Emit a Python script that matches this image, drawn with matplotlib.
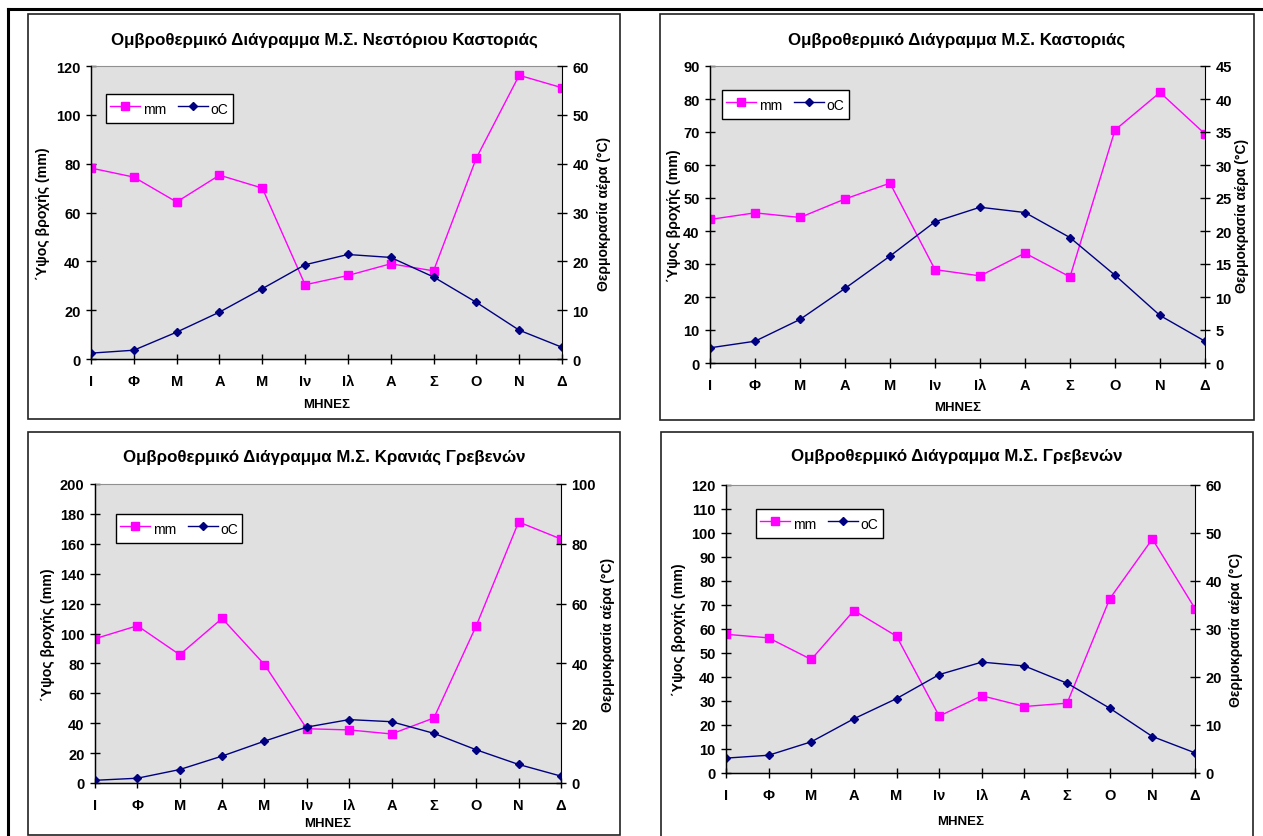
import matplotlib
matplotlib.use("Agg")
from matplotlib import pyplot as plt
from matplotlib.patches import Rectangle
from matplotlib.lines import Line2D

plt.rcParams['font.family'] = ['Liberation Sans', 'DejaVu Sans']

W, H = 1263, 837

# data
months = ['Ι', 'Φ', 'Μ', 'Α', 'Μ', 'Ιν', 'Ιλ', 'Α', 'Σ', 'Ο', 'Ν', 'Δ']

titles = ['Ομβροθερμικό Διάγραμμα Μ.Σ. Νεστόριου Καστοριάς',
          'Ομβροθερμικό Διάγραμμα Μ.Σ. Καστοριάς',
          'Ομβροθερμικό Διάγραμμα Μ.Σ. Κρανιάς Γρεβενών',
          'Ομβροθερμικό Διάγραμμα Μ.Σ. Γρεβενών']

mm_nestorio = [78.2, 74.5, 64.3, 75.3, 70.0, 30.4, 34.2, 39.0, 36.1, 82.3, 116.2, 111.1]
oc_nestorio = [1.2, 1.8, 5.5, 9.6, 14.4, 19.3, 21.4, 20.8, 16.8, 11.6, 5.9, 2.4]

mm_kastoria = [43.5, 45.5, 44.1, 49.7, 54.5, 28.3, 26.4, 33.3, 26.1, 70.6, 82.0, 69.4]
oc_kastoria = [2.3, 3.3, 6.6, 11.3, 16.2, 21.4, 23.6, 22.8, 19.0, 13.3, 7.2, 3.3]

mm_krania = [96.5, 105.2, 85.8, 110.1, 79.2, 36.3, 35.5, 32.8, 43.5, 105.2, 174.6, 163.2]
oc_krania = [0.9, 1.6, 4.5, 9.0, 14.0, 18.7, 21.2, 20.5, 16.6, 11.1, 6.2, 2.3]

mm_grevena = [57.8, 56.3, 47.3, 67.7, 57.0, 23.7, 32.2, 27.7, 29.1, 72.6, 97.5, 68.5]
oc_grevena = [3.1, 3.7, 6.5, 11.3, 15.5, 20.5, 23.1, 22.3, 18.7, 13.5, 7.6, 4.2]

mm_all = [mm_nestorio, mm_kastoria, mm_krania, mm_grevena]
oc_all = [oc_nestorio, oc_kastoria, oc_krania, oc_grevena]

left_max = [120, 90, 200, 120]
left_step = [20, 10, 20, 10]
right_max = [60, 45, 100, 60]
right_step = [10, 5, 20, 10]

# layout in pixels: (left, top, right, bottom)
boxes = [(28, 15, 620, 420), (660, 15, 1254, 421),
         (28, 433, 620, 836), (661, 433, 1253, 845)]
plots = [(91, 67, 562, 360), (710, 67, 1205, 364),
         (95, 485, 561, 784), (726, 486, 1195, 774)]
legends = [(106, 91, 233, 128), (721, 87, 850, 124),
           (111, 513, 247, 546), (752, 507, 887, 542)]
title_y = [40, 40, 457, 457]
xlabel_y = [405, 408, 824, 822]
ylab_l = [43, 674, 48, 679]
ylab_r = [604, 1242, 608, 1236]


def frac(l, t, r, b):
    return [l / W, 1 - b / H, (r - l) / W, (b - t) / H]


fig = plt.figure(figsize=(W / 100, H / 100), dpi=100)

# outer frame lines
fig.add_artist(Line2D([8 / W, 1], [1 - 10 / H, 1 - 10 / H], color='black', lw=2.2))
fig.add_artist(Line2D([8 / W, 8 / W], [1 - 10 / H, 0], color='black', lw=2.2))

for i in range(4):
    l, t, r, b = boxes[i]
    fig.add_artist(Rectangle((l / W, 1 - b / H), (r - l) / W, (b - t) / H,
                             transform=fig.transFigure, fill=False,
                             edgecolor='#222222', lw=1.2))

    ax = fig.add_axes(frac(*plots[i]))
    ax.set_facecolor('#e0e0e0')
    x = range(len(months))
    ax.plot(x, mm_all[i], color='#ff00ff', marker='s', markersize=5.5, lw=1,
            label='mm')
    ax.set_xlim(0, 11)
    ax.set_ylim(0, left_max[i])
    ax.set_yticks(range(0, left_max[i] + 1, left_step[i]))
    ax.set_xticks(list(x))
    ax.set_xticklabels(months)
    for s in ['left', 'bottom']:
        ax.spines[s].set_color('black')
        ax.spines[s].set_linewidth(1)
    ax.spines['top'].set_color('#909090')
    ax.spines['right'].set_visible(False)
    ax.tick_params(axis='both', direction='inout', length=7, width=1,
                   labelsize=10.5, pad=4)
    ax.tick_params(axis='x', pad=7)
    for lab in ax.get_xticklabels() + ax.get_yticklabels():
        lab.set_fontweight('bold')

    ax2 = ax.twinx()
    ax2.plot(x, oc_all[i], color='#000080', marker='D', markersize=4.5, lw=1,
             label='oC')
    ax2.set_ylim(0, right_max[i])
    ax2.set_yticks(range(0, right_max[i] + 1, right_step[i]))
    ax2.spines['right'].set_color('black')
    ax2.spines['top'].set_visible(False)
    ax2.tick_params(axis='y', direction='inout', length=7, width=1,
                    labelsize=10.5, pad=4)
    for lab in ax2.get_yticklabels():
        lab.set_fontweight('bold')

    # legend
    ll, lt, lr, lb = legends[i]
    h1 = Line2D([], [], color='#ff00ff', marker='s', markersize=5.5, lw=1)
    h2 = Line2D([], [], color='#000080', marker='D', markersize=4.5, lw=1)
    leg = fig.legend([h1, h2], ['mm', 'oC'], ncol=2, loc='center',
                     bbox_to_anchor=((ll + lr) / 2 / W, 1 - (lt + lb) / 2 / H),
                     fontsize=10, frameon=True, fancybox=False,
                     handlelength=2.15, handleheight=1.9, handletextpad=0.2,
                     columnspacing=0.85, borderaxespad=0, borderpad=0.32)
    leg.get_frame().set_edgecolor('black')
    leg.get_frame().set_linewidth(1)
    leg.get_frame().set_facecolor('white')
    leg.get_frame().set_alpha(1)

    # texts
    cx = (l + r) / 2
    fig.text(cx / W, 1 - title_y[i] / H, titles[i], ha='center', va='center',
             fontsize=12.2, fontweight='bold')
    pl, pt, pr, pb = plots[i]
    fig.text((pl + pr) / 2 / W, 1 - xlabel_y[i] / H, 'ΜΗΝΕΣ', ha='center',
             va='center', fontsize=9.5, fontweight='bold')
    cy = 1 - (pt + pb) / 2 / H
    fig.text(ylab_l[i] / W, cy, '΄Υψος βροχής (mm)', rotation=90,
             ha='center', va='center', fontsize=10.2, fontweight='bold')
    fig.text(ylab_r[i] / W, cy, 'Θερμοκρασία αέρα (°C)', rotation=90,
             ha='center', va='center', fontsize=10, fontweight='bold')

fig.savefig('out.png', dpi=100)
